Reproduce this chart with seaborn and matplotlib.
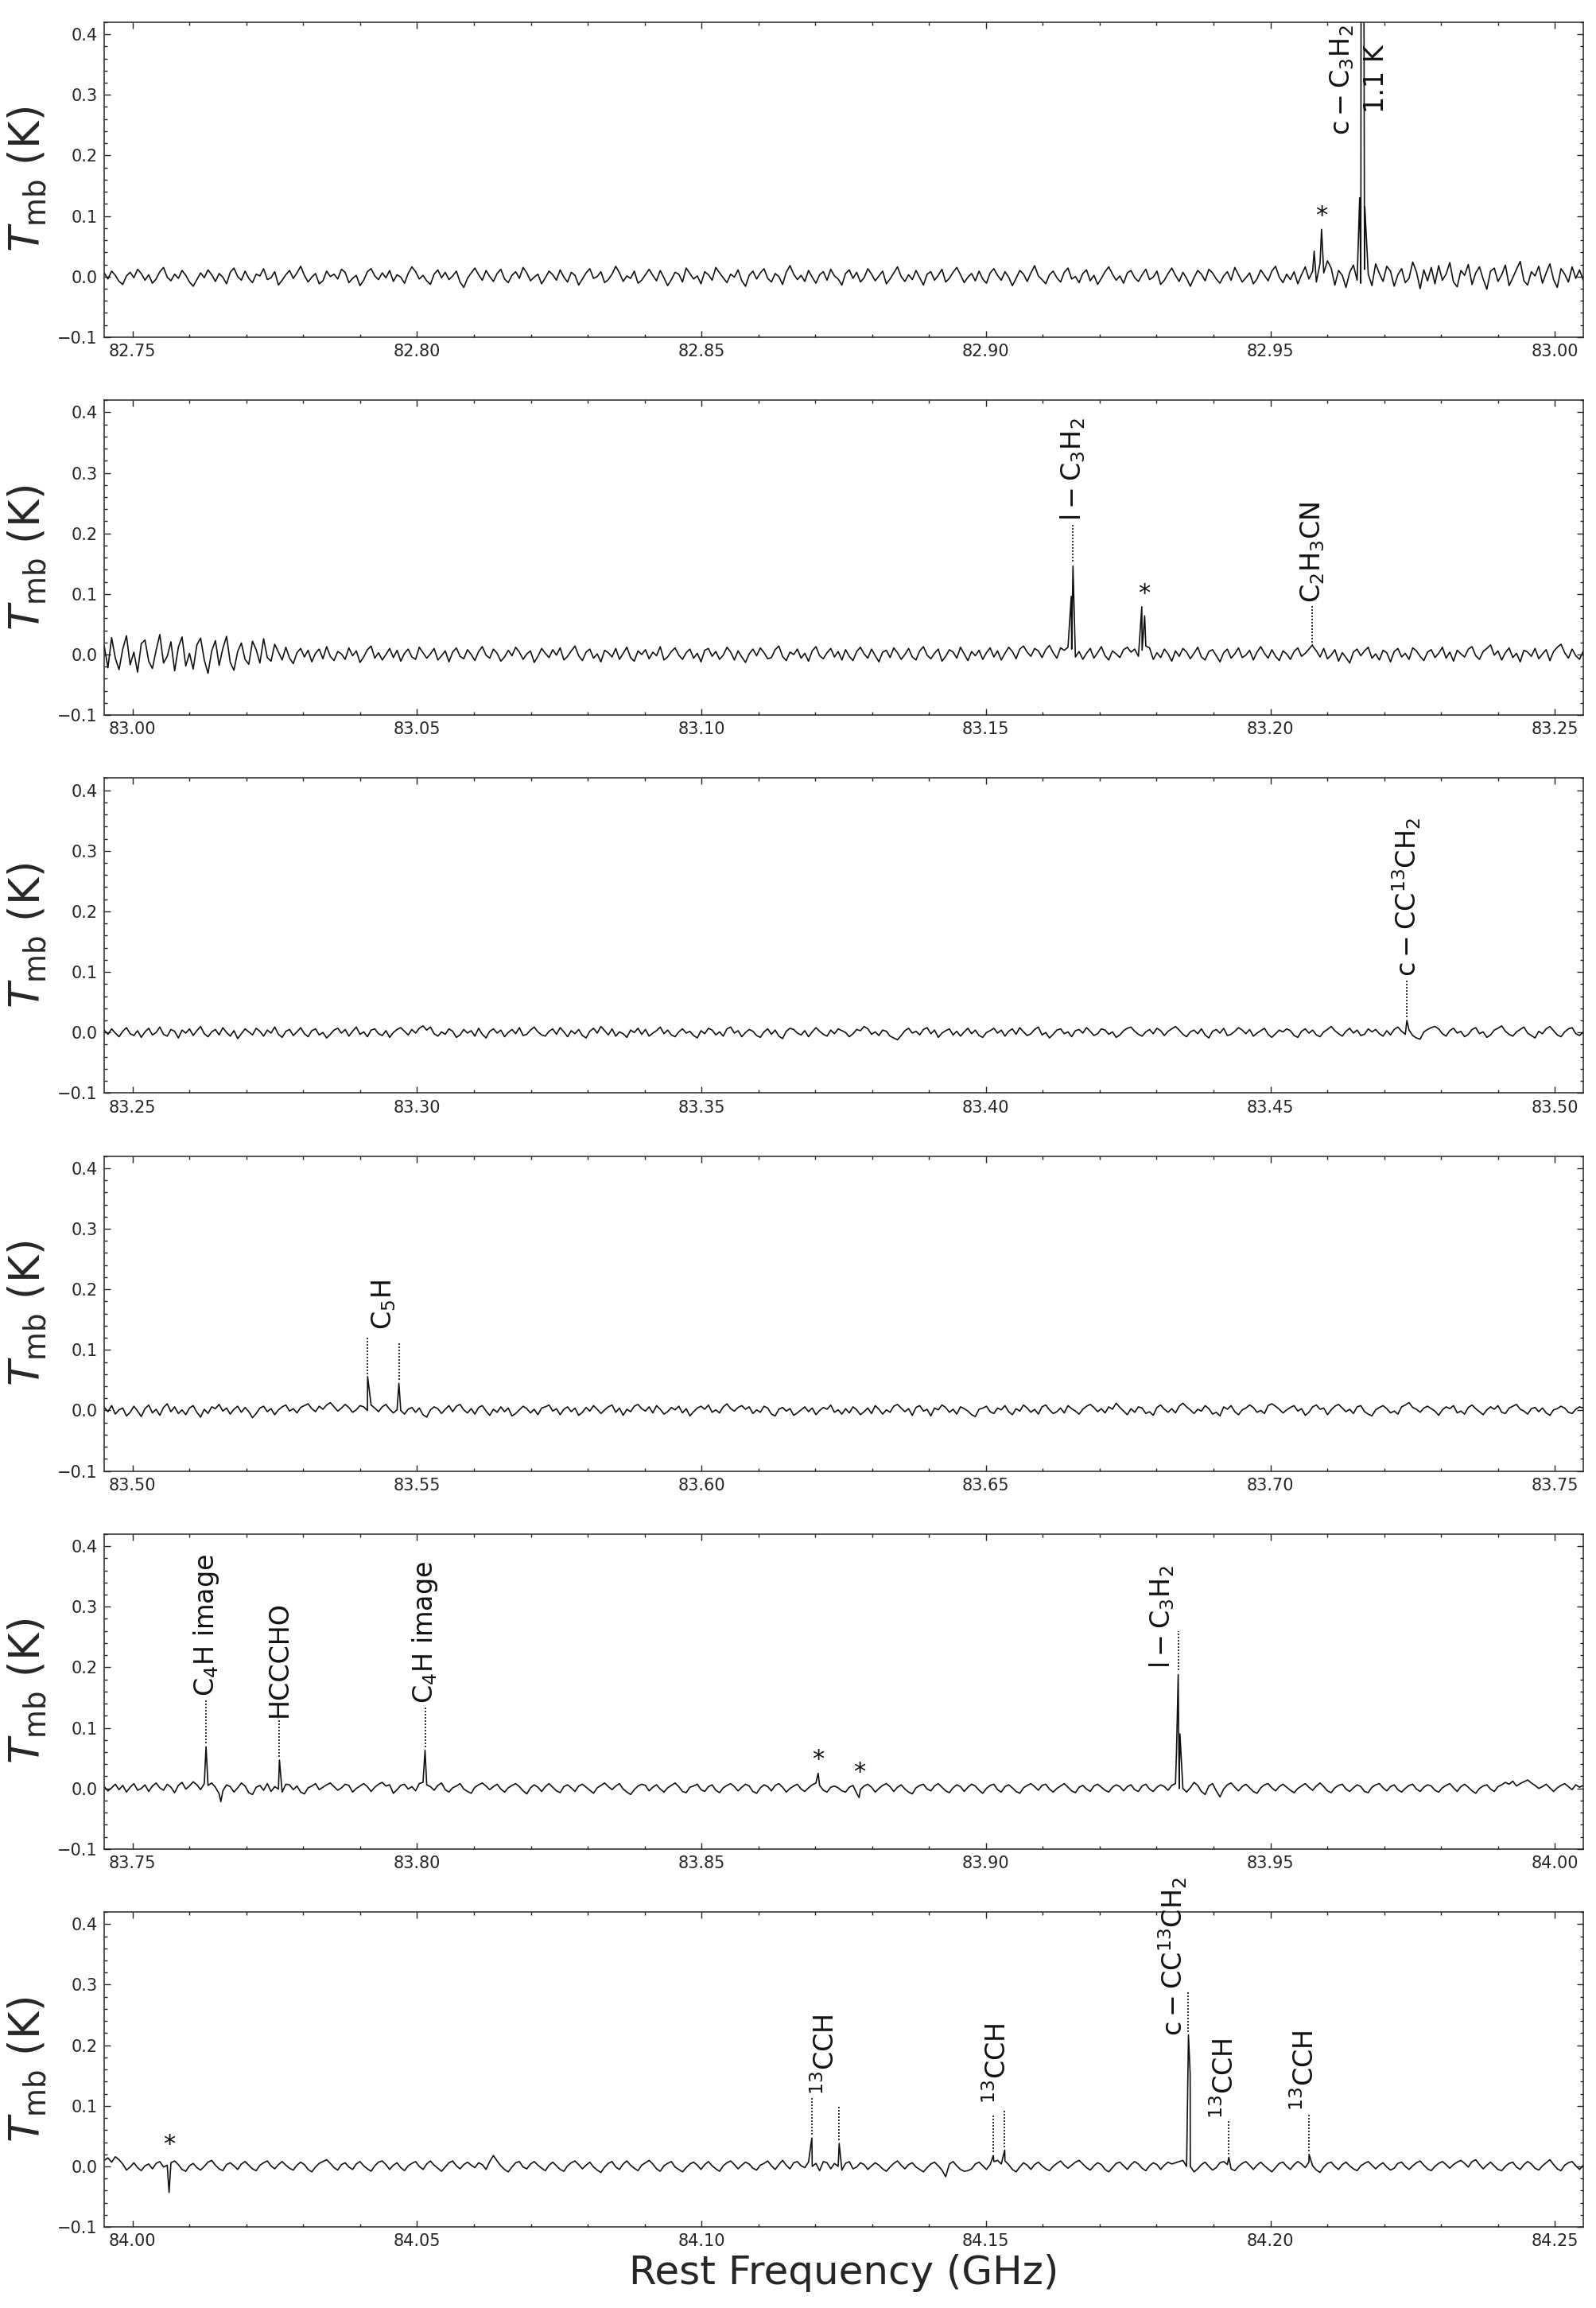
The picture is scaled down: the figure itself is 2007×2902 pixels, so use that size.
import numpy as np
import pandas as pd
import matplotlib
matplotlib.use("Agg")
import matplotlib.pyplot as plt
from matplotlib.ticker import MultipleLocator, FormatStrFormatter, FuncFormatter
import seaborn as sns

# ---------------- data ----------------
PANEL_START = [82.745, 82.995, 83.245, 83.495, 83.745, 83.995]   # GHz
PANEL_SPAN = 0.26                                                   # GHz

# baseline (noise) of each panel, in mK
NOISE_1 = [6, -4, 9, 2, -8, -13, 1, 7, -2, 12, 5, -6, 3, -11, -4, 8, 15, -1, -7, 4, -3, 10, 2, -9, -16, -5, 6, -2, 11, 3, -8, 5, -1, -12, 7, 14, 0, -6, 9, -3,
           -10, 4, 1, 13, -5, -2, 8, -14, -6, 3, 10, -3, 6, 17, 2, -9, -1, 5, -12, -7, 9, 0, 4, -4, 12, 7, -10, -3, 2, -15, -6, 8, 13, 1, -5, 6, -2, 10, -8, 3,
           -1, -11, 5, 16, 8, -4, 2, -7, -13, 4, 11, -2, 7, -5, 1, 9, -9, -18, -3, 6, 14, 3, -6, 10, 0, -8, 5, 12, -4, -10, 2, 8, -3, 15, 6, -7, -1, 4, -12, -2,
           9, 3, -6, 11, -1, -9, 7, 2, -14, -4, 6, 13, -3, 0, 8, -10, -5, 4, 17, 6, -8, 1, -3, 9, -11, -6, 3, 12, 2, -7, 10, -2, -15, -5, 7, 4, -9, 14, 5, -4,
           1, -12, 8, 3, -6, 15, 6, -2, -10, 4, -1, 11, -7, -16, 2, 9, -4, 6, 13, -3, -9, 5, 0, -13, 7, 18, 4, -5, 2, -8, 10, -1, -11, 3, 8, -6, 12, 1, -4, -14,
           5, 11, -3, 7, -9, -2, 13, 4, -7, 1, 9, -12, -4, 6, 16, 0, -8, 3, -5, 10, -2, -14, 4, 8, -6, 2, 12, -9, -3, 7, 15, 3, -10, -1, 5, -7, 9, -4, -11, 6,
           13, 2, -6, 8, -1, -15, -3, 10, 4, -8, 6, 18, 1, -5, -12, 3, 9, -2, -9, 7, 14, -4, 0, -10, 5, 11, -7, 2, -13, -3, 8, 16, 4, -6, 1, -11, 6, 10, -2, -8,
           3, 12, -5, -1, 9, -13, -6, 5, 14, 2, -8, 7, -3, -16, -2, 10, 4, -7, 12, 6, -4, -11, 1, 8, -6, 15, 3, -9, -2, 6, -12, -4, 11, 2, -7, 9, 17, -1, -10, 4,
           -5, 8, -12, 3, 16, -4, 9, -9, 22, 6, 26, 14, -14, 10, 2, -18, 7, 19, -6, -11, 12, 4, -15, 21, 5, -8, 17, 9, -16, 3, 13, -10, -3, 24, 8, -20, 11, -7, 15, -12,
           18, -6, 4, 23, -9, -17, 10, 2, 20, -13, 6, 16, -4, -21, 9, 14, -8, 3, 19, -15, -2, 12, 25, -7, -14, 8, 1, 17, -11, 6, 21, -5, -18, 13, 4, -9, 16, -3, 11, -6]

NOISE_2 = [14, -22, 28, -6, -25, 9, 31, -17, 4, -29, 18, 24, -11, -23, 7, 33, -14, -3, 21, -27, 12, 29, -19, 2, -24, 16, 27, -9, -31, 6, 23, -18, 10, 30, -13, -26, 5, 19, -8, -16,
           22, 8, -14, 26, -5, -11, 17, 4, -9, 12, -6, -15, 3, 10, -4, 7, -12, 2, 9, -7, 13, -3, -10, 5, 1, -8, 11, -2, 6, -13, -4, 8, 14, -6, 3, -9, 0, 10, -5, 7,
           -11, 2, 9, -4, -8, 12, 3, -6, 1, 10, -9, -2, 6, -12, 4, 11, -3, -7, 8, 0, -10, 5, 13, -1, -6, 9, 2, -11, -4, 7, -2, 12, 4, -8, 1, 6, -13, -3, 10, 2,
           -5, 8, -1, 11, -9, -3, 6, 14, -2, -10, 4, 9, -6, 1, -12, 7, 3, -4, 10, -8, 2, 12, -5, -11, 6, 0, 8, -7, 4, -2, 13, -9, -4, 5, 11, -1, -8, 3, 9, -6,
           2, -12, 7, 10, -3, 5, -8, -1, 12, 4, -9, 6, -4, -13, 1, 9, -2, 11, 3, -7, -5, 8, 14, -3, -10, 4, 0, 9, -6, 2, -11, 6, 13, -2, -7, 3, 10, -4, 5, -9,
           8, -3, -10, 5, 12, 1, -6, 9, -2, -12, 4, 7, -5, 11, 3, -8, 0, 10, -4, -9, 6, 13, -1, -7, 2, 9, -11, -3, 8, 4, -6, 12, 1, -10, 5, -2, 7, -8, 3, 11,
           -4, 6, -9, 2, 12, 5, -7, 9, 14, 4, -3, 10, 6, -5, 8, 15, 3, -6, 11, 7, 12, 9, -4, 5, -8, 2, 10, -6, 3, 13, -2, -9, 6, 1, -5, 8, 12, 4, 9, -3,
           7, 14, 11, -8, 3, -5, 9, 1, -11, 6, -3, 10, 4, -7, 2, 12, -4, -9, 5, 8, -2, -12, 3, 9, -6, 1, 11, -5, -1, 7, -9, 4, 13, 2, -6, 8, -3, -10, 6, 1,
           -8, 5, 11, -3, 2, 9, 14, 6, -4, 10, -7, -1, 8, -11, 3, -5, -14, 4, 9, -2, 6, 12, -6, 1, -9, 7, 3, -12, 5, 10, -4, 2, -8, 11, 6, -3, -10, 4, 8, -5,
           2, 12, -6, 4, -11, 7, 1, -4, 9, 13, -2, -8, 5, 10, 16, -1, 6, -9, 3, 11, -5, 2, -12, 7, 4, -3, 10, -7, 1, 8, -10, 5, 12, 17, 3, -6, 9, -2, -8, 6]

NOISE_3 = [4, -3, 6, -1, -7, 2, 8, -2, -5, 3, -8, 1, 7, -4, 0, 9, -3, -6, 5, 2, -9, 4, -1, 6, -5, 3, 10, -2, -7, 1, 5, -4, 8, 0, -6, 3, -10, -2, 6, 1,
           -4, 7, 2, -6, 4, -1, 9, -3, -8, 2, 5, -5, 1, 8, -2, -7, 3, 6, -4, 0, -9, -3, 4, 7, -1, 5, -6, 2, 9, -3, 1, -7, 4, 6, -2, -5, 3, -8, 0, 5,
           8, 2, -4, 5, -1, 7, 11, 4, 9, -2, -6, 1, -3, 6, 2, -8, -4, 5, -1, 3, -6, 7, -3, -9, 2, 6, -1, 4, -7, 0, 5, -2, 8, -5, -3, 4, 9, 1, -4, -6,
           2, 6, -3, 8, 1, -7, 3, -2, 5, -5, -9, 2, 7, -1, 10, 3, -4, 6, -6, 1, -2, -8, 4, 0, 7, -3, 5, -6, -1, 3, 9, -2, 4, -4, -7, 1, 6, -1, 2, -5,
           -9, 3, -2, 7, 4, -4, 1, -6, 6, 9, -1, 3, -7, 0, 5, 2, -5, -8, 1, 6, -3, 4, -6, -10, 2, 7, 5, -1, -4, 3, -7, 1, 8, 2, -3, -6, 4, -2, 6, 3,
           0, -7, -2, 5, 3, 10, 6, -3, 1, -5, 4, 2, -6, -9, -12, -5, 3, 7, -1, 2, -4, 5, 8, -2, 4, -8, -1, 3, 6, -4, 2, -6, 1, 7, -2, 4, -5, -8, 0, 3,
           7, -1, 4, -6, 2, 6, -3, 8, 1, -5, -2, 5, 9, -4, 0, -9, -3, 4, 6, -2, 1, -7, 3, 5, -1, 8, 2, -5, -2, 6, 4, -3, 1, -8, -4, 3, 7, 9, 2, -3,
           -6, 1, 5, -2, 7, 3, -5, 2, 6, 10, 4, -3, -7, 1, 4, -2, 6, -4, -9, 2, 5, -1, 7, -5, -3, 2, 8, 4, -2, 5, -6, -1, 3, 7, -3, -8, -2, 4, 1, 6,
           3, -5, -8, 2, 6, -1, 4, -4, -7, 1, 5, 10, 3, -2, -6, 2, 7, -1, 4, -5, -3, 6, 1, 5, -2, -6, 3, -4, 5, 9, 2, -3, 4, -5, -9, -11, 1, 5, 8, 10,
           6, -2, -6, 3, 7, -1, 2, -7, -3, 5, 8, -2, 1, -8, -4, 4, 7, 11, 2, -3, -6, 1, 5, 9, -1, -5, -9, 2, -2, 6, 10, 3, -4, -7, 1, 6, 8, -2, -5, 1]

NOISE_4 = [5, -2, 8, -6, 1, 4, -9, -3, 7, -1, -10, 3, 9, -4, 2, -8, 5, 11, -2, 6, -5, 1, -7, 4, 8, -3, -11, 2, -5, 6, 3, 10, -1, 4, -6, 2, 7, -3, 5, -2,
           -12, -5, 4, 7, -2, 3, -7, 1, 6, 9, -1, 3, -4, 5, 8, 11, 3, -2, 7, 2, 9, 13, 6, -1, 4, 10, 5, -3, 1, 8, 6, 0, 9, 4, -2, 6, 10, 2, -4, 1,
           0, -6, 2, 5, -3, 4, -7, -11, 1, 6, 3, -5, 2, 8, -2, 7, 10, 1, -4, 3, -6, 5, 8, -1, -8, 2, -3, 6, -2, 4, -9, -5, 1, 7, 3, -4, 2, -7, 4, 6,
           9, -1, 3, -7, 2, 6, -2, 4, -8, -3, 5, -1, 8, 2, -5, 1, 6, 9, -3, 4, -8, 2, -2, 7, 10, 3, -1, 6, -4, 8, 2, -6, -2, 5, 1, 7, -4, 3, -9, -2,
           4, 7, 2, 9, -3, 1, -4, 6, 11, 3, -1, 5, 8, 2, 6, -5, 1, -3, 7, 4, -6, -9, 2, 5, -1, 3, -8, -4, 1, 6, -2, 4, -7, 0, 5, 2, 9, -3, 1, -6,
           3, -4, 6, 1, -7, -2, 4, -5, 8, 2, -6, 1, -3, 7, 10, 4, -2, 3, -8, 5, 8, -1, 2, -9, 4, 1, 9, 5, -3, 2, -6, 6, 3, -1, -7, -10, 2, 4, 7, -2,
           -5, 4, 1, 8, -2, -7, 3, -1, 9, 4, -3, 2, -6, 6, 9, 1, -5, -2, 4, -4, 8, 3, -1, -6, 2, 7, 10, 5, -2, 3, -4, 6, 2, 12, 5, -1, -7, 3, -3, 6,
           4, -5, -2, -8, 5, 9, 2, -3, 3, -4, 7, 12, 6, 1, -5, 2, -1, 8, 3, -6, -3, -9, 6, 2, 8, -2, -7, 1, 4, 9, 5, -3, 0, -5, 8, 11, 7, 2, -4, 1,
           5, 8, -1, 3, -8, -3, 6, 9, 2, 4, -7, 1, 7, 10, 4, -2, 2, -5, 6, 8, -2, -6, -9, 1, 5, 8, 3, -4, -1, -6, 6, 9, 13, 5, 2, -3, 4, 7, 3, -1,
           -8, 1, 6, 3, 8, -4, -1, -6, 5, 9, 3, -2, -7, 1, 6, 2, 8, -3, -5, 4, 7, 10, 2, -1, -6, 3, 5, -2, 4, -4, -8, 1, 3, 7, 4, -3, -5, 2, 6, 4]

NOISE_5 = [3, -4, 1, 7, -2, 5, -6, 2, 8, -3, 0, 6, -5, 4, 9, 1, -3, 7, 2, -7, 5, 10, -1, 4, 11, 6, -2, 8, 5, 9, 2, -9, -4, 6, 3, -6, 1, 9, 4, -7,
           -10, 2, 5, -3, 8, -5, 3, -1, -6, 7, 6, -2, 4, -6, -9, 1, 4, 8, -2, 2, 6, 9, 3, -3, 1, 7, 5, -6, 0, 4, 8, 3, -5, 2, 7, 10, 4, 6, -8, -2,
           5, 7, -1, 3, -4, 8, 10, 6, 3, -3, 5, 9, -2, -6, 1, 4, 8, -1, -5, -8, 2, 6, 9, 4, -2, 3, 7, -1, -6, 1, 5, 8, 3, -4, -9, 1, 6, 2, -5, 3,
           8, 2, -4, -7, 3, 6, 1, -5, 4, 7, 2, -3, -8, 1, 5, 9, 3, -2, 4, 8, -1, -6, -10, -2, 4, 7, 5, -4, 2, 6, -1, -6, 1, 5, 9, 3, -5, -7, 2, 4,
           7, -2, -5, 3, 6, -3, -7, 1, 5, 8, 3, -4, 2, 7, 4, -5, -8, 1, 6, 3, -4, 5, 8, 2, -6, 0, 4, 7, -1, -5, 1, 6, 9, 5, -3, -6, 2, 4, 1, -4,
           -6, 2, 5, -8, -2, 4, 7, 2, -6, 0, 5, 8, 3, -5, 2, 6, -1, -6, -9, 1, 5, 7, -1, -4, 4, 8, 2, -4, -7, 1, 6, 3, -5, 2, 7, 4, -3, -8, 0, 5,
           7, -2, -6, 3, 6, 1, -5, -8, 1, 5, 8, 3, -3, 5, 7, -1, -6, 0, 4, 8, 2, -4, -7, 2, 5, -1, -5, 4, 7, 2, -3, -6, 2, 6, 3, -4, 3, 6, -2, -5,
           4, 7, -1, -5, 2, 6, 3, -3, 5, 8, 0, 0, -6, 1, 10, 5, -5, -10, 4, 8, -4, -14, -1, 6, 9, 2, -4, 3, 7, 1, -5, -8, 1, 6, 8, 1, -4, 3, 7, 2,
           -3, -7, 0, 4, 8, 2, -3, 4, 9, 3, -4, -7, 1, 5, 7, -1, -5, 1, 6, 3, -5, -7, 2, 6, 8, 1, -4, 3, 6, -2, -6, 0, 5, 7, -1, -5, 2, 6, 4, -3,
           -6, 1, 5, 8, 1, -5, 3, 7, 2, -4, -8, 0, 4, 6, -1, -5, 3, 6, 10, 7, 12, 4, 8, 11, 14, 9, 5, 0, 3, 7, 1, -5, 1, 5, 8, 3, -2, 6, 2, 5]

NOISE_6 = [10, 14, 7, 16, 11, 4, -6, -1, 6, -2, -7, 1, 4, -4, 5, 8, -1, 2, 6, 9, 3, -5, -8, 1, 5, -2, -6, 0, 7, 10, 2, -4, -7, 3, 6, 1, -5, 4, 8, 2,
           -4, -7, 2, 6, 9, 1, -4, 3, 8, 2, -3, -6, 2, 7, 3, -5, -9, -1, 5, 8, 11, 5, -2, -6, 3, 6, -1, -5, 4, 8, 1, -4, -8, 1, 7, 9, 3, -5, 2, 6,
           -2, -7, 1, 5, 8, 0, -5, 4, 9, 2, -3, -8, -1, 6, 9, 1, -4, 3, 7, 2, -2, 6, 3, -5, 8, 18, 9, 1, -5, -9, -1, 6, 8, -1, -4, 4, 8, 2, -3, -7,
           2, 7, 1, -5, -8, 1, 6, 9, 3, -4, 2, 7, -1, -6, -10, -1, 5, 8, -1, -5, 4, 9, 2, -3, -7, 2, 6, 10, 4, -4, -8, 1, 5, 8, -1, -5, -9, -2, 4, 7,
           2, -5, 3, 8, 1, -4, -8, 1, 6, 9, 3, -4, 2, 7, 4, -3, -6, 2, 5, 9, 1, -5, 3, 10, 2, -4, 6, 8, 1, -2, 7, 0, 5, -7, 8, 6, -4, 5, 0, -6,
           5, 8, -4, -1, 6, 3, -5, 1, 6, 2, -4, -8, -1, 5, 9, 2, -4, 3, 6, -1, -5, -9, -2, 4, 7, 1, -6, -17, 4, 8, 1, -5, -8, -7, -4, 4, 7, 1, -5, 3,
           8, 10, 4, 9, 3, -5, -9, -1, 6, 2, -5, 3, 7, 1, -4, -7, 0, 5, 9, 2, -3, 2, 7, 10, 4, -2, -6, 1, 6, 3, -5, -9, -2, 5, 7, 1, -5, 3, 8, 4,
           -3, -7, 1, 6, 3, -5, 2, 7, 4, 6, 8, 10, 0, 0, -9, -4, 3, 7, 0, -6, -2, 6, 8, 3, -4, -7, 0, 5, 8, 2, -5, 2, 7, 1, -4, -9, -2, 5, 7, 0,
           -5, 3, 8, 4, -2, 7, 1, -6, -10, -1, 5, 7, 0, -5, 3, 7, 1, -4, -7, 1, 5, 8, 2, -4, 2, 6, -1, -6, -3, 5, 7, 0, -5, 1, 6, 9, 2, -4, -7, 0,
           5, 8, 3, -3, 3, 7, 10, 5, -1, 8, 11, 3, -4, 2, 7, 1, -5, -7, 0, 5, 7, -1, -5, 3, 8, 4, -3, -6, 1, 6, 11, 3, -4, -7, 2, 6, 8, 1, -5, 2]

NOISES = [NOISE_1, NOISE_2, NOISE_3, NOISE_4, NOISE_5, NOISE_6]

# spectral-line channels: frequency (GHz) and Tmb (K)
LINE_FREQ_1 = [82.9577, 82.9590, 82.9657, 82.9660, 82.9663, 82.9666]
LINE_TMB_1 = [0.042, 0.078, 0.130, 1.100, 1.100, 0.115]
LINE_FREQ_2 = [83.1650, 83.1653, 83.1774, 83.1779, 83.2074]
LINE_TMB_2 = [0.096, 0.146, 0.079, 0.064, 0.016]
LINE_FREQ_3 = [83.4740]
LINE_TMB_3 = [0.020]
LINE_FREQ_4 = [83.5413, 83.5468]
LINE_TMB_4 = [0.056, 0.045]
LINE_FREQ_5 = [83.7629, 83.7655, 83.7758, 83.8014, 83.8705, 83.8777, 83.9335, 83.9338, 83.9341]
LINE_TMB_5 = [0.069, -0.022, 0.047, 0.063, 0.025, -0.015, 0.060, 0.188, 0.090]
LINE_FREQ_6 = [84.0064, 84.1194, 84.1242, 84.1513, 84.1533, 84.1856, 84.1859, 84.1927, 84.2068]
LINE_TMB_6 = [-0.043, 0.047, 0.038, 0.018, 0.027, 0.217, 0.153, 0.015, 0.020]
LINE_FREQS = [LINE_FREQ_1, LINE_FREQ_2, LINE_FREQ_3, LINE_FREQ_4, LINE_FREQ_5, LINE_FREQ_6]
LINE_TMBS = [LINE_TMB_1, LINE_TMB_2, LINE_TMB_3, LINE_TMB_4, LINE_TMB_5, LINE_TMB_6]

# labels: (panel, text, dotted-line x list, dotted bottoms, dotted tops, text x, text y, vertical alignment)
LABELS = [
    (0, r"$\mathrm{c-C_3H_2}$", [], [], [], 82.9626, 0.416, "top"),
    (0, "1.1 K", [], [], [], 82.9686, 0.383, "top"),
    (1, r"$\mathrm{l-C_3H_2}$", [83.1653], [0.153], [0.214], 83.1653, 0.220, "bottom"),
    (1, r"$\mathrm{C_2H_3CN}$", [83.2074], [0.020], [0.080], 83.2074, 0.085, "bottom"),
    (2, r"$\mathrm{c-CC^{13}CH_2}$", [83.4740], [0.025], [0.086], 83.4740, 0.092, "bottom"),
    (3, r"$\mathrm{C_5H}$", [83.5413, 83.5468], [0.060, 0.050], [0.123, 0.111], 83.5441, 0.133, "bottom"),
    (4, r"$\mathrm{C_4H}$ image", [83.7629], [0.075], [0.146], 83.7629, 0.152, "bottom"),
    (4, "HCCCHO", [83.7758], [0.052], [0.114], 83.7758, 0.118, "bottom"),
    (4, r"$\mathrm{C_4H}$ image", [83.8014], [0.068], [0.134], 83.8014, 0.140, "bottom"),
    (4, r"$\mathrm{l-C_3H_2}$", [83.9338], [0.195], [0.260], 83.9309, 0.198, "bottom"),
    (5, r"$\mathrm{^{13}CCH}$", [84.1194, 84.1242], [0.052, 0.043], [0.114, 0.100], 84.1218, 0.118, "bottom"),
    (5, r"$\mathrm{^{13}CCH}$", [84.1513, 84.1533], [0.023, 0.032], [0.084, 0.095], 84.1521, 0.104, "bottom"),
    (5, r"$\mathrm{c-CC^{13}CH_2}$", [84.1856], [0.222], [0.290], 84.1829, 0.215, "bottom"),
    (5, r"$\mathrm{^{13}CCH}$", [84.1927], [0.020], [0.075], 84.1920, 0.079, "bottom"),
    (5, r"$\mathrm{^{13}CCH}$", [84.2068], [0.025], [0.088], 84.2061, 0.092, "bottom"),
]
# unidentified features marked with an asterisk: (panel, x, y)
STARS = [(0, 82.9590, 0.100), (1, 83.1778, 0.100), (4, 83.8705, 0.048),
         (4, 83.8777, 0.027), (5, 84.0064, 0.036)]

Y_MIN, Y_MAX = -0.1, 0.42

# ---------------- style ----------------
sns.set_style("ticks")
plt.rcParams["font.family"] = ["DejaVu Sans"]
plt.rcParams["mathtext.fontset"] = "dejavusans"
plt.rcParams["axes.linewidth"] = 1.1


def build_panel(start, noise, freqs, tmbs):
    """Noise channels plus the measured line channels, ordered in frequency."""
    f = np.linspace(start, start + PANEL_SPAN, len(noise))
    t = np.asarray(noise, dtype=float) / 1000.0
    base = pd.DataFrame({"freq": f, "tmb": t})
    lines = pd.DataFrame({"freq": np.asarray(freqs, float), "tmb": np.asarray(tmbs, float)})
    return pd.concat([base, lines], ignore_index=True).sort_values("freq", kind="mergesort")


def yfmt(v, pos):
    if abs(v) < 1e-9:
        v = 0.0
    return f"{v:.1f}".replace("-", "\u2212")


fig, axes = plt.subplots(6, 1, figsize=(20.07, 29.02), dpi=100)
fig.subplots_adjust(left=0.0653, right=0.992, top=0.9904, bottom=0.0351, hspace=0.2)

for i, ax in enumerate(axes):
    df = build_panel(PANEL_START[i], NOISES[i], LINE_FREQS[i], LINE_TMBS[i])
    sns.lineplot(data=df, x="freq", y="tmb", ax=ax, color="#111111",
                 linewidth=1.2, estimator=None, sort=False)
    ax.set_xlim(PANEL_START[i], PANEL_START[i] + PANEL_SPAN)
    ax.set_ylim(Y_MIN, Y_MAX)
    ax.xaxis.set_major_locator(MultipleLocator(0.05))
    ax.xaxis.set_minor_locator(MultipleLocator(0.01))
    ax.xaxis.set_major_formatter(FormatStrFormatter("%.2f"))
    ax.yaxis.set_major_locator(MultipleLocator(0.1))
    ax.yaxis.set_minor_locator(MultipleLocator(0.02))
    ax.yaxis.set_major_formatter(FuncFormatter(yfmt))
    ax.tick_params(which="both", direction="in", top=True, right=True,
                   labelsize=15, pad=6, width=1.0, color="#222222")
    ax.tick_params(which="major", length=5.5)
    ax.tick_params(which="minor", length=3)
    ax.set_ylabel(r"$T_{\rm mb}$ (K)", fontsize=38)
    ax.yaxis.set_label_coords(-0.037, 0.5)
    if i == len(axes) - 1:
        ax.set_xlabel("Rest Frequency (GHz)", fontsize=36, labelpad=4)
    else:
        ax.set_xlabel("")

for (p, txt, lx, ly0, ly1, tx, ty, va) in LABELS:
    ax = axes[p]
    for x, y0, y1 in zip(lx, ly0, ly1):
        ax.plot([x, x], [y0, y1], linestyle=(0, (1.2, 1.2)), color="#111111", linewidth=1.2)
    ax.text(tx, ty, txt, rotation=90, ha="center", va=va, fontsize=24,
            color="#111111", clip_on=False)

for (p, x, y) in STARS:
    axes[p].text(x, y, "*", ha="center", va="center", fontsize=22, color="#111111")

fig.savefig("out.png", dpi=100)
